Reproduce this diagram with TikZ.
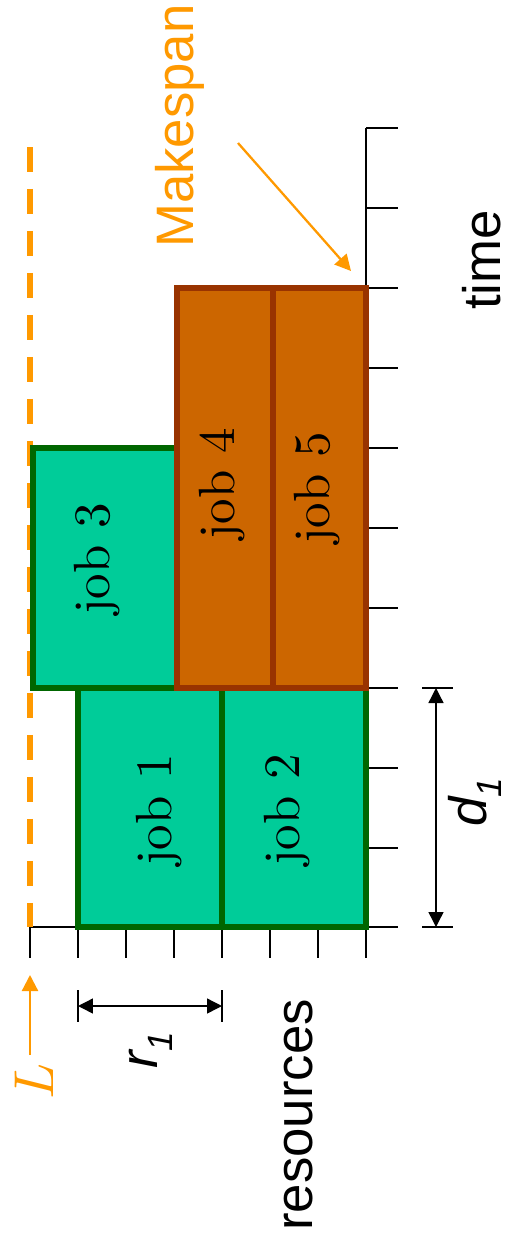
\documentclass[tikz,border=0pt]{standalone}
\usepackage{fontspec}
\newfontfamily\arialfont{Liberation Sans}
\newfontfamily\jobfont{lmroman10}[Extension=.otf, UprightFont=*-regular, ItalicFont=*-italic]
\usetikzlibrary{arrows.meta}
\definecolor{jobgreen}{RGB}{0,204,153}
\definecolor{jobgreenline}{RGB}{0,102,0}
\definecolor{jobbrown}{RGB}{204,102,0}
\definecolor{jobbrownline}{RGB}{153,51,0}
\definecolor{limitorange}{RGB}{255,153,0}
\newcommand{\subone}{\raisebox{-9pt}{\fontsize{20}{24}\selectfont 1}}

\begin{document}
\begin{tikzpicture}[x=0.02cm, y=-0.02cm,
    greenjob/.style={draw=jobgreenline, fill=jobgreen, line width=3.2pt},
    brownjob/.style={draw=jobbrownline, fill=jobbrown, line width=3.2pt},
    joblabel/.style={rotate=90, anchor=base, inner sep=0pt,
                     font=\jobfont\fontsize{29}{35}\selectfont},
    axislabel/.style={rotate=90, anchor=base, inner sep=0pt,
                      font=\arialfont\fontsize{30}{36}\selectfont},
    dimlabel/.style={axislabel, font=\arialfont\itshape\fontsize{30}{36}\selectfont},
    axisline/.style={line width=1pt},
    dimarr/.style={{Triangle[length=0.3cm,width=0.3cm]}-{Triangle[length=0.3cm,width=0.3cm]},
                   line width=0.8pt},
    limitarr/.style={-{Triangle[length=0.32cm,width=0.32cm]}, limitorange, line width=1.3pt}
  ]
  \useasboundingbox (0,0) rectangle (509,1245);

  % axes
  \draw[axisline] (30,927) -- (398,927);
  \draw[axisline] (366,128) -- (366,927);
  \foreach \t in {128,208,...,848} {
    \draw[axisline] (366,\t) -- (398,\t);
  }
  \foreach \r in {30,78,...,366} {
    \draw[axisline] (\r,927) -- (\r,958);
  }

  % resource limit
  \draw[limitorange, line width=3.4pt, dash pattern=on 0.5cm off 0.34cm]
    (30,147) -- (30,927);

  % jobs
  \draw[greenjob] (78,688) rectangle (222,927);
  \draw[greenjob] (222,688) rectangle (366,927);
  \draw[greenjob] (33,448) rectangle (177,688);
  \draw[brownjob] (177,288) rectangle (273,688);
  \draw[brownjob] (273,288) rectangle (366,688);

  \node[joblabel] (job1) at (171,810) {job 1};
  \node[joblabel] (job2) at (299,810) {job 2};
  \node[joblabel] (job3) at (109,559) {job 3};
  \node[joblabel] (job4) at (234,484) {job 4};
  \node[joblabel] (job5) at (329,488) {job 5};

  % labels
  \node[axislabel] (timelabel) at (500,260) {time};
  \node[axislabel] (reslabel) at (312,1115) {resources};
  \node[axislabel, text=limitorange] (makespanlabel) at (193,126) {Makespan};
  \node[dimlabel] (rlabel) at (157,1050) {r\subone};
  \node[dimlabel] (dlabel) at (486,802) {d\subone};
  \node[rotate=90, anchor=base, inner sep=0pt, text=limitorange,
        font=\jobfont\itshape\fontsize{32}{38}\selectfont] (llabel) at (53,1083) {L};

  % dimension marks
  \coordinate (rleft) at (78,1006);
  \coordinate (rright) at (222,1006);
  \draw[axisline] (78,990) -- (78,1022);
  \draw[axisline] (222,990) -- (222,1022);
  \draw[dimarr] (rleft) -- (rright);

  \coordinate (dtop) at (436,688);
  \coordinate (dbottom) at (436,927);
  \draw[axisline] (422,688) -- (453,688);
  \draw[axisline] (422,927) -- (453,927);
  \draw[dimarr] (dtop) -- (dbottom);

  % arrows
  \coordinate (makespanfrom) at (238,143);
  \coordinate (makespanto) at (351,271);
  \draw[limitarr] (makespanfrom) -- (makespanto);
  \coordinate (lfrom) at (30,1055);
  \coordinate (lto) at (30,975);
  \draw[limitarr] (lfrom) -- (lto);
\end{tikzpicture}
\end{document}
